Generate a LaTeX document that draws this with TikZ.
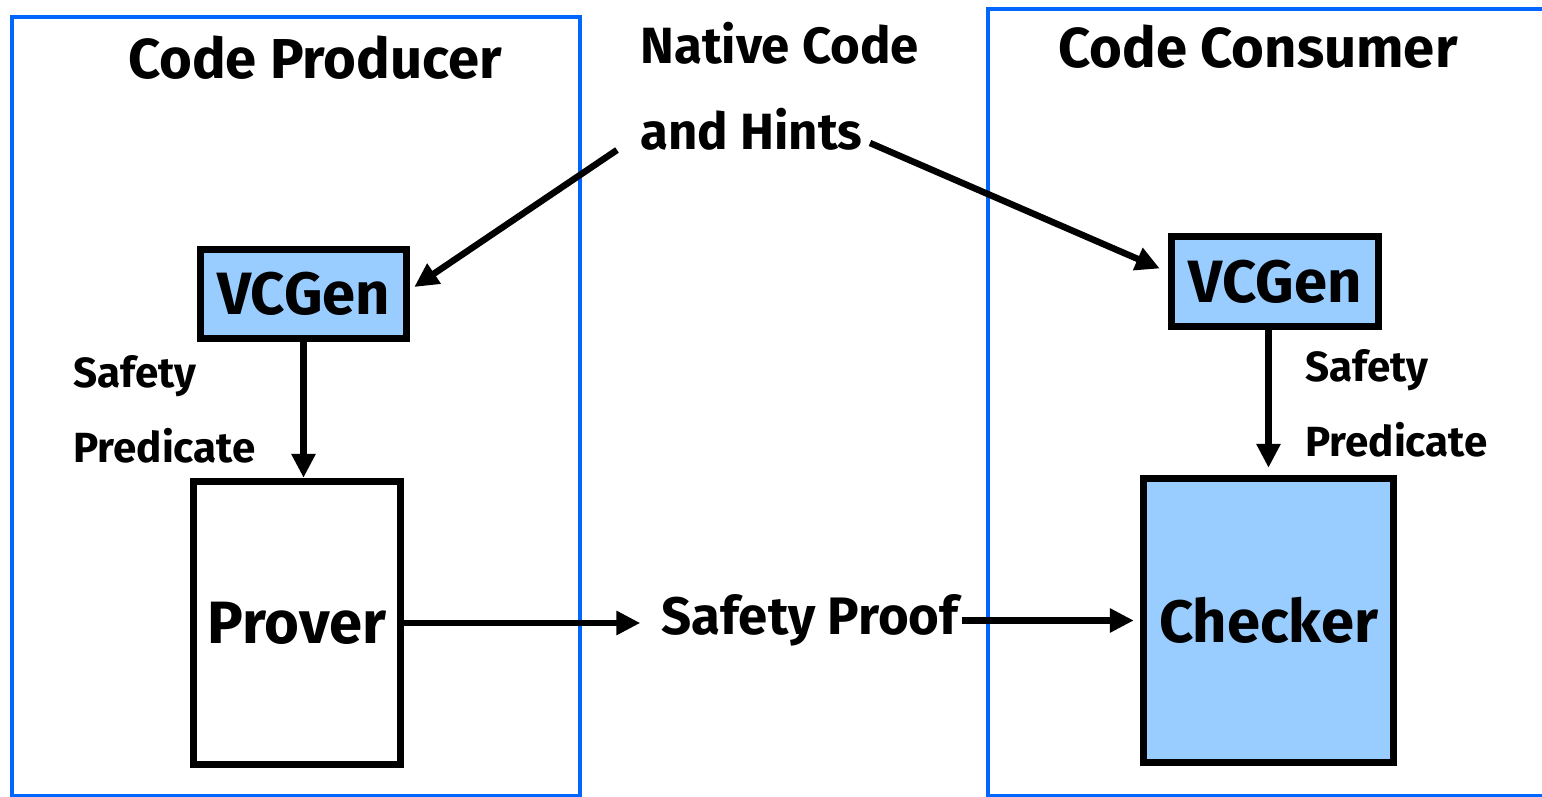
\documentclass[tikz,border=0pt]{standalone}
\usepackage{fontspec}
\setmainfont{Fira Sans}
\definecolor{frameblue}{RGB}{0,102,255}
\definecolor{boxblue}{RGB}{153,204,255}
\usetikzlibrary{arrows.meta,positioning,calc}

\begin{document}
\begin{tikzpicture}[
      x=0.02cm, y=-0.02cm,
      arr/.style={-{Triangle[length=0.48cm,width=0.46cm]}, line width=0.13cm},
      side/.style={draw=frameblue, line width=0.08cm},
      unit/.style={draw, line width=0.15cm, font=\fontsize{34}{40}\selectfont\bfseries},
      title/.style={font=\fontsize{32}{38}\selectfont\bfseries},
      lbl/.style={align=left, inner sep=0pt, anchor=north west}
    ]
    \useasboundingbox (0,0) rectangle (1542,797);
    % the two parties
    \draw[side] (12,17) rectangle (580,796);
    \draw[side] (988,9) rectangle (1560,796);
    \node[title] (prod) at (315,58) {Code Producer};
    \node[title] (cons) at (1258,47) {Code Consumer};
    % what travels between them
    \node[lbl, font=\fontsize{29}{49}\selectfont\bfseries] (hints) at (640,22)
      {Native Code\\and Hints};
    \node[font=\fontsize{30}{36}\selectfont\bfseries, inner sep=0.06cm] (proof) at (810,620) {Safety Proof};
    % producer side
    \node[unit, fill=boxblue, minimum width=4.12cm, minimum height=1.78cm] (vcl) at (303.5,294) {VCGen};
    \node[unit, fill=white, minimum width=4.14cm, minimum height=5.66cm] (prv) at (297,623) {Prover};
    \node[lbl, font=\fontsize{24}{43}\selectfont\bfseries] (spl) at (73,355) {Safety\\Predicate};
    % consumer side
    \node[unit, fill=boxblue, minimum width=4.14cm, minimum height=1.8cm] (vcr) at (1275,281.5) {VCGen};
    \node[unit, fill=boxblue, minimum width=5.0cm, minimum height=5.68cm] (chk) at (1268.5,620.5) {Checker};
    \node[lbl, font=\fontsize{24}{43}\selectfont\bfseries] (spr) at (1305,349) {Safety\\Predicate};
    % connectors
    \coordinate (hl) at (617,150);
    \coordinate (hr) at (870,143);
    \draw[arr] (hl) -- ($(vcl.east)+(4,-7)$);
    \draw[arr] (hr) -- ($(vcr.west)+(-8,-13)$);
    \draw[arr] (vcl.south) -- (vcl.south |- prv.north);
    \draw[arr, shorten >=0.14cm] (chk.north |- vcr.south) -- (chk.north);
    \draw[arr, shorten >=0.36cm] (prv.east) -- (prv.east -| proof.west);
    \draw[arr, shorten >=0.12cm] (proof.east |- chk.west) -- (chk.west);
  \end{tikzpicture}
\end{document}
